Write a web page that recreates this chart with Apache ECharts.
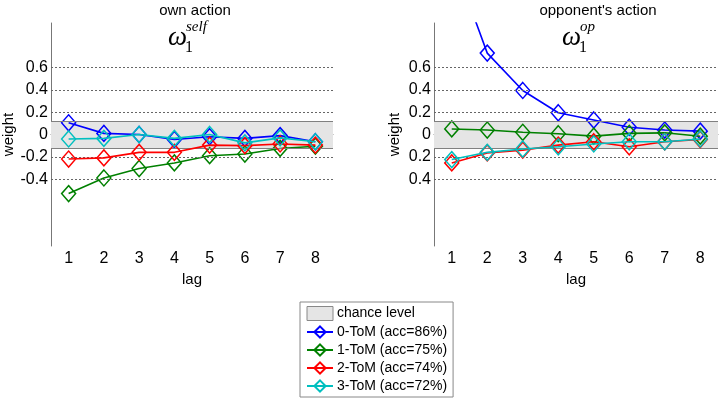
<!DOCTYPE html>
<html>
<head>
<meta charset="utf-8">
<script src="https://cdn.jsdelivr.net/npm/echarts@6/dist/echarts.min.js"></script>
<style>html,body{margin:0;padding:0;background:#fff}#c{width:722px;height:400px}</style>
</head>
<body>
<div id="c"></div>
<script>
// ---- data ----
const lags = ['1','2','3','4','5','6','7','8'];
const seriesNames = ['0-ToM (acc=86%)','1-ToM (acc=75%)','2-ToM (acc=74%)','3-ToM (acc=72%)'];
const colors = ['#0000ff','#008000','#ff0000','#00bfbf'];
// own action weights (omega_1^self)
const selfTom0 = [0.105, 0.01, 0.0, -0.045, -0.02, -0.035, -0.01, -0.065];
const selfTom1 = [-0.53, -0.39, -0.305, -0.255, -0.19, -0.175, -0.125, -0.105];
const selfTom2 = [-0.22, -0.21, -0.16, -0.16, -0.095, -0.1, -0.085, -0.095];
const selfTom3 = [-0.04, -0.035, 0.0, -0.035, 0.0, -0.075, -0.03, -0.065];
// opponent's action weights (omega_1^op)
const opTom0 = [1.6, 0.73, 0.395, 0.195, 0.13, 0.065, 0.04, 0.03];
const opTom1 = [0.05, 0.04, 0.02, 0.007, -0.015, 0.01, 0.015, -0.015];
const opTom2 = [-0.255, -0.165, -0.14, -0.095, -0.065, -0.11, -0.065, -0.045];
const opTom3 = [-0.225, -0.16, -0.13, -0.11, -0.085, -0.065, -0.065, -0.04];
const yTicks = [-0.4, -0.2, 0, 0.2, 0.4, 0.6];
const gridTicks = [-0.4, -0.2, 0.2, 0.4, 0.6];
const chanceLevel = [-0.12, 0.12];
const yRange = [-1, 1];

const FONT = 'Arial, "Liberation Sans", sans-serif';
const chart = echarts.init(document.getElementById('c'), null, {renderer:'canvas'});

function yAxisFor(gi, absLabels){
  return {
    type:'value', gridIndex:gi, min:yRange[0], max:yRange[1], interval:0.2,
    name:'weight', nameLocation:'middle', nameGap:32,
    nameTextStyle:{fontFamily:FONT, fontSize:15, color:'#000'},
    axisLine:{show:true, lineStyle:{color:'#777', width:1}},
    axisTick:{show:false}, splitLine:{show:false},
    axisLabel:{
      margin:3, fontFamily:FONT, fontSize:16, color:'#000',
      formatter:function(v){
        const r = Math.round(v*10)/10;
        if (!yTicks.some(t => Math.abs(t-r) < 1e-6)) return '';
        const s = absLabels ? Math.abs(r) : r;
        return String(s);
      }
    }
  };
}
function xAxisFor(gi){
  return {
    type:'category', gridIndex:gi, data:lags, boundaryGap:true,
    name:'lag', nameLocation:'middle', nameGap:24,
    nameTextStyle:{fontFamily:FONT, fontSize:15, color:'#000'},
    axisLine:{show:true, lineStyle:{color:'#777', width:1}},
    axisTick:{show:false}, splitLine:{show:false},
    axisLabel:{margin:5, fontFamily:FONT, fontSize:16, color:'#000'}
  };
}
function chanceSeries(gi){
  return {
    name:'chance level', type:'line', xAxisIndex:gi, yAxisIndex:gi, data:[],
    silent:true, z:1,
    markArea:{silent:true, itemStyle:{color:'#e5e5e5'},
      data:[[{yAxis:chanceLevel[0]},{yAxis:chanceLevel[1]}]]},
    markLine:{silent:true, symbol:'none', label:{show:false}, animation:false,
      data:[
        ...gridTicks.map(t => ({yAxis:t, lineStyle:{type:[2,2], color:'#666', width:1}})),
        ...chanceLevel.map(t => ({yAxis:t, lineStyle:{type:'solid', color:'#808080', width:1.2}}))
      ]}
  };
}
function dataSeries(gi, arrs){
  return arrs.map((d,i) => ({
    name:seriesNames[i], type:'line', xAxisIndex:gi, yAxisIndex:gi, data:d,
    clip:true, z:3+i,
    symbol:'diamond', symbolSize:[14,16],
    color:colors[i],
    lineStyle:{color:colors[i], width:1.6},
    itemStyle:{color:'rgba(255,255,255,0)', borderColor:colors[i], borderWidth:1.5},
    emphasis:{disabled:true}, animation:false
  }));
}

const option = {
  animation:false,
  backgroundColor:'#fff',
  title:[
    {text:'own action', left:190, top:-2, textAlign:'center',
     textStyle:{fontFamily:FONT, fontSize:15, fontWeight:'normal', color:'#000'}},
    {text:"opponent's action", left:593, top:-2, textAlign:'center',
     textStyle:{fontFamily:FONT, fontSize:15, fontWeight:'normal', color:'#000'}}
  ],
  grid:[
    {left:51, top:23, width:282, height:223},
    {left:434, top:23, width:284, height:223}
  ],
  xAxis:[xAxisFor(0), xAxisFor(1)],
  yAxis:[yAxisFor(0,false), yAxisFor(1,true)],
  legend:{
    orient:'vertical', left:300, top:302,
    padding:[4,6,4,6], itemGap:4, itemWidth:26, itemHeight:14,
    borderColor:'#888', borderWidth:1, backgroundColor:'#fff',
    textStyle:{fontFamily:FONT, fontSize:14, color:'#000', padding:[0,0,0,-1]},
    selectedMode:false,
    data:[
      {name:'chance level', icon:'rect', itemStyle:{color:'#e5e5e5', borderColor:'#888', borderWidth:1}},
      ...seriesNames.map(n => ({name:n}))
    ]
  },
  graphic:[
    {type:'text', left:168, top:24, style:{text:'ω', font:'italic 27px "Liberation Serif", "Times New Roman", serif', fill:'#000'}},
    {type:'text', left:185, top:40, style:{text:'1', font:'16px "Liberation Serif", "Times New Roman", serif', fill:'#000'}},
    {type:'text', left:186, top:20, style:{text:'self', font:'italic 15px "Liberation Serif", "Times New Roman", serif', fill:'#000'}},
    {type:'text', left:562, top:24, style:{text:'ω', font:'italic 27px "Liberation Serif", "Times New Roman", serif', fill:'#000'}},
    {type:'text', left:579, top:40, style:{text:'1', font:'16px "Liberation Serif", "Times New Roman", serif', fill:'#000'}},
    {type:'text', left:580, top:20, style:{text:'op', font:'italic 15px "Liberation Serif", "Times New Roman", serif', fill:'#000'}}
  ],
  series:[
    chanceSeries(0), ...dataSeries(0,[selfTom0,selfTom1,selfTom2,selfTom3]),
    chanceSeries(1), ...dataSeries(1,[opTom0,opTom1,opTom2,opTom3])
  ]
};
chart.setOption(option);
</script>
</body>
</html>
